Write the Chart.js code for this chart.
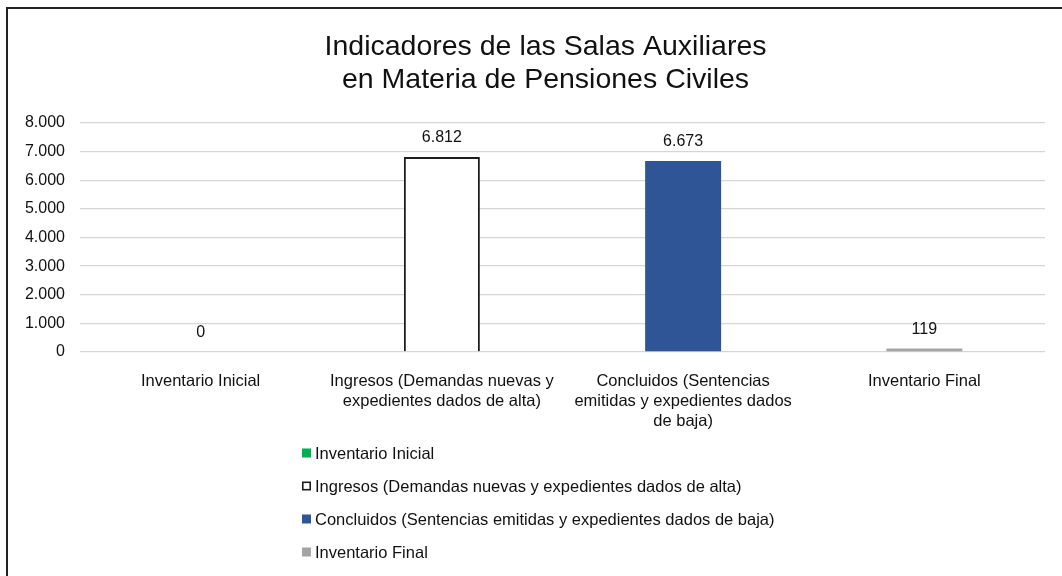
<!DOCTYPE html>
<html>
<head>
<meta charset="utf-8">
<script src="https://cdn.jsdelivr.net/npm/chart.js@4/dist/chart.umd.min.js"></script>
<style>
  html, body { margin: 0; padding: 0; background: #fff; overflow: hidden; }
  #wrap { position: relative; width: 1062px; height: 576px; }
  #frame { position: absolute; left: 6px; top: 7px; right: -10px; bottom: -10px;
           border-left: 2px solid #222; border-top: 2px solid #222; pointer-events: none; }
</style>
</head>
<body>
<div id="wrap">
  <canvas id="c"></canvas>
  <div id="frame"></div>
</div>
<script>
// ---- data ----
const titleLines = ['Indicadores de las Salas Auxiliares', 'en Materia de Pensiones Civiles'];
const categories = [
  'Inventario Inicial',
  'Ingresos (Demandas nuevas y expedientes dados de alta)',
  'Concluidos (Sentencias emitidas y expedientes dados de baja)',
  'Inventario Final'
];
const axisLabels = [
  ['Inventario Inicial'],
  ['Ingresos (Demandas nuevas y', 'expedientes dados de alta)'],
  ['Concluidos (Sentencias', 'emitidas y expedientes dados', 'de baja)'],
  ['Inventario Final']
];
const values = [0, 6812, 6673, 119];
const yTicks = [0, 1000, 2000, 3000, 4000, 5000, 6000, 7000, 8000];

// ---- styles ----
const fills   = ['#00B050', '#FFFFFF', '#2F5597', '#A5A5A5'];
const borders = ['#00B050', '#1E1E1E', '#2F5597', '#A5A5A5'];
const borderW = [0, 2, 0, 0];
const FONT = '"Liberation Sans", Arial, sans-serif';

function fmt(v) { return String(v).replace(/\B(?=(\d{3})+(?!\d))/g, '.'); }

const datasets = categories.map((name, i) => ({
  label: name,
  data: values.map((v, j) => (j === i ? v : null)),
  backgroundColor: fills[i],
  borderColor: borders[i],
  borderWidth: borderW[i],
  categoryPercentage: 1,
  barPercentage: 0.315
}));

const titleShift = {
  id: 'titleShift',
  afterLayout(chart) {
    const t = chart.titleBlock;
    if (t) { t.left += 46; t.width = t.right - t.left; }
  }
};

const valueLabels = {
  id: 'valueLabels',
  afterDatasetsDraw(chart) {
    const ctx = chart.ctx;
    ctx.save();
    ctx.font = '16px ' + FONT;
    ctx.fillStyle = '#111';
    ctx.textAlign = 'center';
    ctx.textBaseline = 'middle';
    chart.data.datasets.forEach((ds, di) => {
      const meta = chart.getDatasetMeta(di);
      ds.data.forEach((v, k) => {
        if (v === null) return;
        const el = meta.data[k];
        ctx.fillText(fmt(v), el.x, el.y - 19);
      });
    });
    ctx.restore();
  }
};

const vertLegend = {
  id: 'vertLegend',
  afterDraw(chart) {
    const ctx = chart.ctx;
    const x0 = 302, y0 = chart.chartArea.bottom + 101, step = 33, box = 9;
    ctx.save();
    ctx.font = '16.5px ' + FONT;
    ctx.textAlign = 'left';
    ctx.textBaseline = 'middle';
    chart.data.datasets.forEach((ds, i) => {
      const y = y0 + i * step;
      ctx.fillStyle = ds.backgroundColor;
      ctx.fillRect(x0, y - box / 2, box, box);
      if (ds.borderWidth > 0) {
        ctx.strokeStyle = ds.borderColor;
        ctx.lineWidth = 1.6;
        ctx.strokeRect(x0 + 0.8, y - box / 2 + 0.8, box - 1.6, box - 1.6);
      }
      ctx.fillStyle = '#111';
      ctx.fillText(ds.label, x0 + 13, y + 1);
    });
    ctx.restore();
  }
};

new Chart(document.getElementById('c'), {
  type: 'bar',
  data: { labels: axisLabels, datasets },
  plugins: [titleShift, valueLabels, vertLegend],
  options: {
    responsive: true,
    maintainAspectRatio: false,
    animation: false,
    skipNull: true,
    layout: { padding: { left: 0, right: 17, top: 0, bottom: 144 } },
    plugins: {
      legend: { display: false },
      tooltip: { enabled: false },
      title: {
        display: true,
        text: titleLines,
        color: '#111',
        font: { family: FONT, size: 28.5, weight: 'normal', lineHeight: 1.17 },
        padding: { top: 30, bottom: 26.3 }
      }
    },
    scales: {
      x: {
        grid: { display: false },
        border: { display: false },
        ticks: {
          color: '#111',
          padding: 11,
          maxRotation: 0,
          autoSkip: false,
          font: { family: FONT, size: 16.5, lineHeight: 1.212 }
        },
        afterFit(s) { s.height = 80; }
      },
      y: {
        min: 0, max: 8000,
        grid: { color: '#D6D6D6', lineWidth: 1.3, drawTicks: false },
        border: { display: false },
        afterBuildTicks(s) { s.ticks = yTicks.map(v => ({ value: v })); },
        ticks: {
          color: '#111',
          padding: 15,
          font: { family: FONT, size: 16 },
          callback: v => fmt(v)
        },
        afterFit(s) { s.width = 80; }
      }
    }
  }
});
</script>
</body>
</html>
